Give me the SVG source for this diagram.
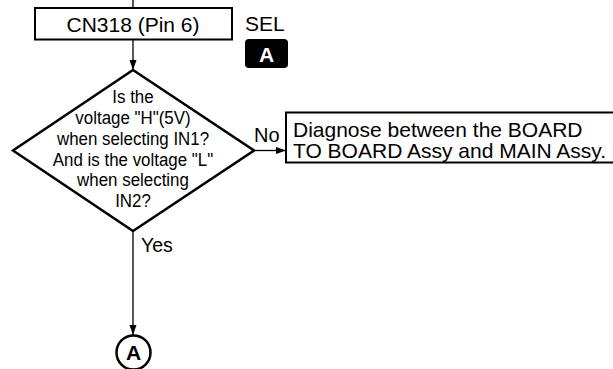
<svg xmlns="http://www.w3.org/2000/svg" width="613" height="369" viewBox="0 0 613 369">
<style>
.t{font-family:"Liberation Sans",Arial,Helvetica,sans-serif;fill:#000}
.box{fill:#fff;stroke:#000;stroke-width:2}
.ln{stroke:#000;stroke-width:1.3;fill:none}
</style>
<defs>
<marker id="ah" viewBox="0 0 10 10" refX="10" refY="5" markerWidth="10" markerHeight="10" markerUnits="userSpaceOnUse" orient="auto">
<path d="M0,1.5 L10,5 L0,8.5 z" fill="#000"/>
</marker>
</defs>
<g id="connectors">
<line class="ln" x1="133" y1="0" x2="133" y2="8"/>
<line class="ln" x1="133" y1="40" x2="133" y2="70" marker-end="url(#ah)"/>
<line class="ln" x1="254" y1="150.5" x2="286" y2="150.5" marker-end="url(#ah)"/>
<line class="ln" x1="133" y1="231" x2="133" y2="335" marker-end="url(#ah)"/>
<text class="t" x="254" y="142" font-size="20">No</text>
<text class="t" x="141" y="252" font-size="19.5">Yes</text>
</g>
<g id="cn318">
<rect class="box" x="35" y="8" width="197" height="31.5"/>
<text class="t" x="133" y="32" font-size="21" text-anchor="middle">CN318 (Pin 6)</text>
</g>
<g id="sel">
<text class="t" x="245" y="31" font-size="21">SEL</text>
<rect x="245" y="39" width="43" height="29" rx="4" fill="#000"/>
<text class="t" x="266.5" y="62" font-size="21" font-weight="bold" text-anchor="middle" style="fill:#fff">A</text>
</g>
<g id="decision">
<polygon points="133,70 254,150.5 133,231 13,150.5" fill="#fff" stroke="#000" stroke-width="2.5" stroke-linejoin="miter"/>
<g transform="translate(133 0) scale(0.89 1)" class="t" font-size="19" text-anchor="middle">
<text class="t" x="0" y="103">Is the</text>
<text class="t" x="0" y="124">voltage "H"(5V)</text>
<text class="t" x="0" y="145">when selecting IN1?</text>
<text class="t" x="0" y="166">And is the voltage "L"</text>
<text class="t" x="0" y="186">when selecting</text>
<text class="t" x="0" y="207">IN2?</text>
</g>
</g>
<g id="diagnose">
<rect class="box" x="286" y="112.5" width="330" height="50"/>
<text class="t" x="293" y="136.5" font-size="21">Diagnose between the BOARD</text>
<text class="t" x="293" y="157.5" font-size="21">TO BOARD Assy and MAIN Assy.</text>
</g>
<g id="connA">
<circle cx="133.5" cy="352.5" r="17" fill="#fff" stroke="#000" stroke-width="2.5"/>
<text class="t" x="133.5" y="360" font-size="21" font-weight="bold" text-anchor="middle">A</text>
</g>
</svg>
